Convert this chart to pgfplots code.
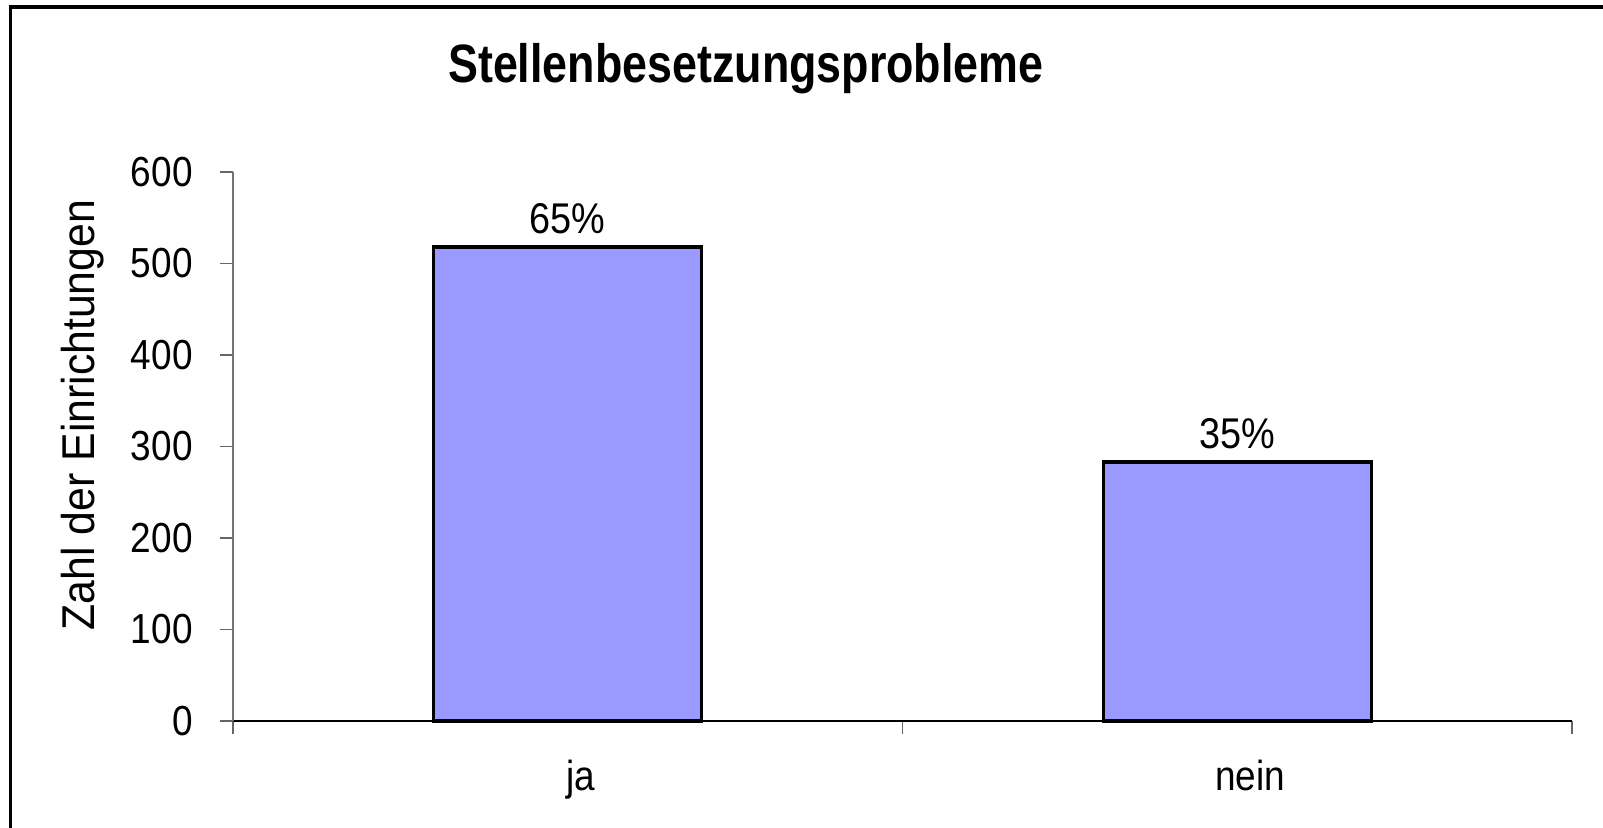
\documentclass[border=0pt]{standalone}
\usepackage{fontspec}
\setmainfont{Liberation Sans}
\newfontfamily\tickfont{Liberation Sans}[FakeStretch=0.88]
\newfontfamily\labfont{Liberation Sans}[FakeStretch=0.93]
\newfontfamily\titlefont{Liberation Sans}[FakeStretch=0.83]
\usepackage{pgfplots}
\pgfplotsset{compat=1.18}
\definecolor{barblue}{HTML}{9999FF}
\begin{document}
\begin{tikzpicture}
\useasboundingbox (0,0) rectangle (801.5pt,414pt);
\draw[line width=1.8pt] (5.25pt,0) -- (5.25pt,410.5pt) -- (801.5pt,410.5pt);
\begin{axis}[
  at={(116.5pt,53.5pt)}, anchor=south west,
  scale only axis, width=669.5pt, height=274.5pt,
  xmin=0.5, xmax=2.5, ymin=0, ymax=600,
  clip=false,
  axis x line*=bottom, axis y line*=left,
  x axis line style={black, line width=0.7pt},
  y axis line style={black!55, line width=0.7pt},
  tick align=outside,
  major tick length=6.5pt,
  tick style={black!60, line width=0.7pt},
  ytick={0,100,200,300,400,500,600},
  xtick={0.5,1.5,2.5}, xticklabels={},
  extra x ticks={1,2}, extra x tick labels={ja,nein},
  extra x tick style={major tick length=0pt, tick style={draw=none},
     xticklabel style={anchor=base, yshift=-35pt, xshift=6.5pt, inner sep=0pt}},
  /pgf/number format/assume math mode=true,
  tick label style={font=\tickfont\fontsize{21}{25}\selectfont},
  yticklabel style={anchor=east, inner sep=0pt, xshift=-13.5pt},
  title={Stellenbesetzungsprobleme},
  title style={at={(axis description cs:0.383,1.141)}, anchor=base, inner sep=0pt,
     font=\titlefont\bfseries\fontsize{27}{30}\selectfont},
  ylabel={Zahl der Einrichtungen},
  ylabel style={at={(axis description cs:-0.1031,0.5574)}, anchor=base, inner sep=0pt,
     font=\labfont\fontsize{23}{27}\selectfont},
]
\addplot[ybar, bar width=0.4, fill=barblue, draw=black, line width=1.6pt,
  nodes near coords, point meta=explicit symbolic,
  nodes near coords style={anchor=base, yshift=7pt, inner sep=0pt, black,
     font=\tickfont\fontsize{21.5}{25}\selectfont}]
  coordinates {(1,518) [65\%] (2,283) [35\%]};
\end{axis}
\end{tikzpicture}
\end{document}
